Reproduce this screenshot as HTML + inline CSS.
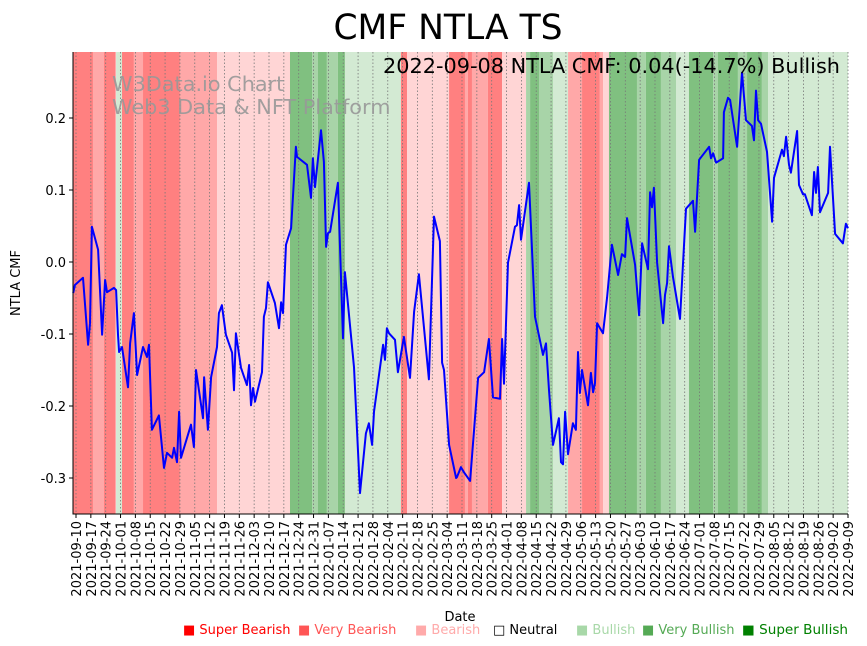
<!DOCTYPE html>
<html><head><meta charset="utf-8"><style>
body{margin:0;background:#fff;font-family:"DejaVu Sans","Liberation Sans",sans-serif}
svg{display:block}
</style></head><body>
<svg id="chart" width="867" height="646" xmlns="http://www.w3.org/2000/svg" font-family="DejaVu Sans, Liberation Sans, sans-serif">
<text x="448" y="39" font-size="34.5" text-anchor="middle">CMF NTLA TS</text>
<g id="bands"></g>
<g id="grid"></g>
<text x="112" y="91" font-size="20.8" fill="#999" opacity="0.9">W3Data.io Chart</text>
<text x="112" y="114" font-size="20.8" fill="#999" opacity="0.9">Web3 Data &amp; NFT Platform</text>
<path id="line" fill="none" stroke="#0000ff" stroke-width="2" stroke-linejoin="round"/>
<text x="383" y="73" font-size="20.5" textLength="457" lengthAdjust="spacingAndGlyphs">2022-09-08 NTLA CMF: 0.04(-14.7%) Bullish</text>
<g id="axes"></g>
<text transform="translate(20,283) rotate(-90)" font-size="13" text-anchor="middle">NTLA CMF</text>
<text x="460" y="621" font-size="13" text-anchor="middle">Date</text>
<g font-size="13">
<text x="183" y="634" fill="#ff0000">■ Super Bearish</text>
<text x="298" y="634" fill="#ff5555">■ Very Bearish</text>
<text x="415" y="634" fill="#ffaaaa">■ Bearish</text>
<text x="493" y="634" fill="#000">□ Neutral</text>
<text x="576" y="634" fill="#a8d8a8">■ Bullish</text>
<text x="642" y="634" fill="#55aa55">■ Very Bullish</text>
<text x="742" y="634" fill="#008000" textLength="106" lengthAdjust="spacingAndGlyphs">■ Super Bullish</text>
</g>
</svg>
<script>
const days=[-1.3,-0.5,3.3,5.7,6.6,7.5,10.4,12.3,13.7,14.6,17.9,18.9,19.8,20.3,21.7,24.5,25.5,27.3,28.8,31.6,33.5,34.4,35.8,39.1,41.5,42.9,45.3,46.2,47.6,48.6,49.5,54.2,55.6,56.6,59.9,60.4,62.2,63.7,66.5,67.4,68.8,70.7,73.6,74.5,75.4,77.8,80.6,81.6,82.5,83.5,84.4,87.7,88.6,89.6,90.5,93.8,95.7,96.7,97.6,99.0,101.4,103.7,104.2,108.9,110.8,111.7,112.7,115.5,116.9,117.9,118.8,119.8,123.5,125.9,126.8,131.1,133.9,136.7,138.1,139.6,140.5,144.8,145.7,146.6,147.6,150.4,151.8,154.6,157.5,159.4,161.7,166.4,168.8,171.6,172.6,173.5,175.9,179.2,179.6,181.5,182.9,185.8,189.6,192.4,194.7,196.6,199.9,200.9,201.8,203.7,207.0,207.9,208.9,209.8,213.6,216.4,220.2,221.6,223.0,224.9,227.7,228.7,229.6,230.6,232.0,234.3,235.7,236.7,237.6,238.6,241.4,242.8,243.8,244.7,245.7,248.5,250.4,252.7,255.6,257.4,258.9,259.8,263.6,265.5,266.9,269.7,270.7,271.6,272.5,274.0,276.8,277.7,278.7,279.6,281.5,284.8,287.6,290.9,291.9,293.8,298.5,299.4,300.4,301.8,305.1,305.5,307.4,308.4,311.7,314.0,315.9,318.7,319.7,320.6,321.6,323.0,325.8,328.2,329.1,332.9,333.8,334.8,336.2,337.1,340.0,340.9,342.8,343.7,347.0,348.0,348.9,349.8,350.8,354.6,355.5,357.9,361.6,363.0,364.0];
const cmf=[-0.043,-0.032,-0.022,-0.115,-0.085,0.049,0.017,-0.101,-0.025,-0.042,-0.036,-0.039,-0.101,-0.125,-0.118,-0.174,-0.113,-0.071,-0.157,-0.118,-0.132,-0.115,-0.233,-0.213,-0.286,-0.265,-0.272,-0.258,-0.278,-0.208,-0.272,-0.226,-0.257,-0.150,-0.217,-0.160,-0.233,-0.160,-0.118,-0.071,-0.060,-0.101,-0.126,-0.178,-0.099,-0.147,-0.171,-0.143,-0.199,-0.175,-0.194,-0.153,-0.076,-0.064,-0.028,-0.057,-0.092,-0.056,-0.071,0.024,0.047,0.160,0.146,0.135,0.089,0.144,0.104,0.183,0.139,0.021,0.040,0.042,0.110,-0.106,-0.014,-0.146,-0.321,-0.238,-0.224,-0.254,-0.208,-0.115,-0.136,-0.092,-0.099,-0.108,-0.153,-0.104,-0.161,-0.069,-0.017,-0.163,0.063,0.029,-0.140,-0.150,-0.254,-0.300,-0.299,-0.285,-0.292,-0.304,-0.161,-0.153,-0.107,-0.188,-0.190,-0.107,-0.169,-0.001,0.049,0.051,0.079,0.031,0.110,-0.076,-0.129,-0.113,-0.178,-0.254,-0.217,-0.278,-0.281,-0.208,-0.267,-0.224,-0.233,-0.125,-0.182,-0.150,-0.199,-0.154,-0.181,-0.168,-0.085,-0.099,-0.049,0.024,-0.018,0.011,0.007,0.061,-0.004,-0.074,0.026,-0.010,0.097,0.076,0.103,-0.001,-0.085,-0.046,-0.029,0.022,-0.021,-0.079,0.074,0.085,0.042,0.142,0.160,0.144,0.151,0.138,0.144,0.208,0.228,0.225,0.160,0.263,0.197,0.189,0.169,0.238,0.197,0.192,0.153,0.056,0.117,0.156,0.147,0.174,0.135,0.124,0.182,0.107,0.094,0.094,0.065,0.125,0.096,0.132,0.069,0.096,0.160,0.039,0.026,0.053,0.047];
const bandStart=[-1.4,8.0,13.2,18.4,18.9,21.7,27.3,31.6,49.0,66.5,100.9,111.3,114.1,118.3,123.5,126.8,153.2,156.1,175.9,183.4,184.8,186.7,194.2,200.9,212.2,214.1,218.3,224.9,232.0,238.6,247.0,248.5,251.3,264.5,268.7,275.8,282.9,289.0,300.4,302.7,312.1,316.4,323.4,326.3];
const bandSignal=[-3,-2,-3,-2,1,-3,-2,-3,-2,-1,3,2,3,2,3,1,-3,-1,-3,-2,-3,-2,-3,-1,2,3,2,1,-2,-3,-2,-1,3,2,3,2,1,3,2,3,2,3,2,1];
const bandEnd=364.5;
const yTicks=[-0.3,-0.2,-0.1,0.0,0.1,0.2];
const startDate=new Date(Date.UTC(2021,8,10));
const tickCount=53;

const L=73,R=848,T=52,B=514;
const X=d=>76+d*(772/364);
const Y=v=>262-v*720;
const NS="http://www.w3.org/2000/svg";
const colors={"-3":"#ff8080","-2":"#ffa8a8","-1":"#ffd5d5","1":"#d3ead3","2":"#a8d4a8","3":"#80c080"};
const bands=document.getElementById('bands');
for(let i=0;i<bandStart.length;i++){
  const s=Math.max(L,X(bandStart[i])), e=Math.min(R,X(i+1<bandStart.length?bandStart[i+1]:bandEnd));
  const r=document.createElementNS(NS,'rect');
  
  
  r.setAttribute('x',s);r.setAttribute('y',T);r.setAttribute('width',Math.max(0,e-s));r.setAttribute('height',B-T);
  r.setAttribute('fill',colors[bandSignal[i]]);
  bands.appendChild(r);
}
const grid=document.getElementById('grid'), axes=document.getElementById('axes');
for(let k=0;k<tickCount;k++){
  const x=X(k*7);
  const g=document.createElementNS(NS,'line');
  
  
  g.setAttribute('x1',x);g.setAttribute('x2',x);g.setAttribute('y1',T);g.setAttribute('y2',B);
  g.setAttribute('stroke','#777');g.setAttribute('stroke-width','0.8');g.setAttribute('stroke-dasharray','1.5,2');
  grid.appendChild(g);
  const t=document.createElementNS(NS,'line');
  
  
  t.setAttribute('x1',x);t.setAttribute('x2',x);t.setAttribute('y1',B);t.setAttribute('y2',B+4);t.setAttribute('stroke','#000');
  axes.appendChild(t);
  const d=new Date(startDate.getTime()+k*7*864e5);
  const lbl=d.toISOString().slice(0,10);
  const tx=document.createElementNS(NS,'text');
  
  
  tx.setAttribute('transform','translate('+(x+5)+','+(B+7)+') rotate(-90)');
  tx.setAttribute('text-anchor','end');tx.setAttribute('font-size','13');
  tx.textContent=lbl;
  axes.appendChild(tx);
}
yTicks.forEach(v=>{
  const y=Y(v);
  const t=document.createElementNS(NS,'line');
  
  
  t.setAttribute('x1',L-4);t.setAttribute('x2',L);t.setAttribute('y1',y);t.setAttribute('y2',y);t.setAttribute('stroke','#000');
  axes.appendChild(t);
  const tx=document.createElementNS(NS,'text');
  
  
  tx.setAttribute('x',L-7);tx.setAttribute('y',y+5);tx.setAttribute('text-anchor','end');tx.setAttribute('font-size','13');
  tx.textContent=v.toFixed(1);
  axes.appendChild(tx);
});
const sp=document.createElementNS(NS,'path');


sp.setAttribute('d','M'+L+','+T+'V'+B+'H'+R);sp.setAttribute('stroke','#000');sp.setAttribute('fill','none');
axes.appendChild(sp);
document.getElementById('line').setAttribute('d',days.map((d,i)=>(i?'L':'M')+X(d).toFixed(1)+','+Y(cmf[i]).toFixed(1)).join(''));
</script>
</body></html>
